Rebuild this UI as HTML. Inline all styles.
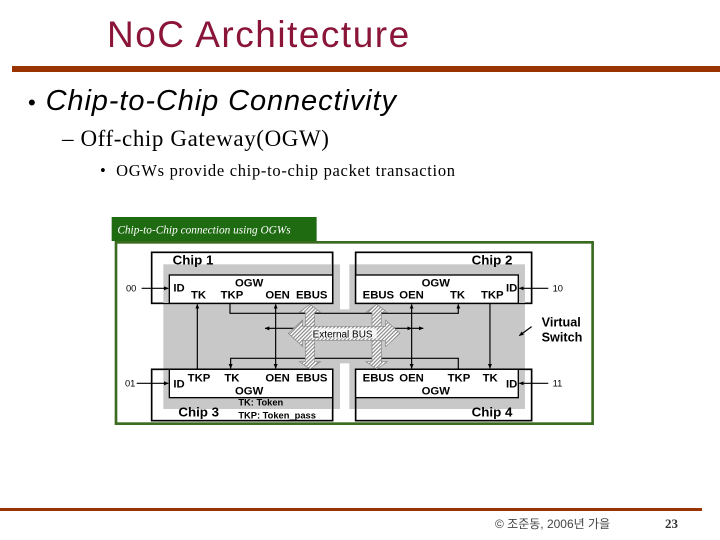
<!DOCTYPE html>
<html><head><meta charset="utf-8"><style>
body{margin:0;width:720px;height:540px;background:#fff;position:relative;overflow:hidden;font-family:"Liberation Sans",sans-serif}
.a{position:absolute;white-space:nowrap}
</style></head><body>
<div class="a" style="left:107px;top:14px;font-size:37px;letter-spacing:1.5px;color:#8a1538;">NoC Architecture</div>
<div class="a" style="left:12px;top:66px;width:708px;height:6px;background:#993300"></div>
<div class="a" style="left:28px;top:85px;font-size:29px;font-style:italic;letter-spacing:0.9px;color:#000"><span style="font-style:normal;font-size:22px">•</span>&nbsp;Chip-to-Chip Connectivity</div>
<div class="a" style="left:62px;top:126px;font-size:23px;letter-spacing:0.6px;font-family:'Liberation Serif',serif">– Off-chip Gateway(OGW)</div>
<div class="a" style="left:100px;top:161px;font-size:16.5px;letter-spacing:0.7px;font-family:'Liberation Serif',serif">•&nbsp; OGWs provide chip-to-chip packet transaction</div>
<svg class="a" style="left:0;top:0" width="720" height="540">
<defs>
<pattern id="h" width="8" height="8" patternUnits="userSpaceOnUse" patternTransform="rotate(45)"><rect width="8" height="8" fill="#fff"/><rect width="3.5" height="8" fill="#888"/></pattern>
<marker id="ar" markerWidth="14" markerHeight="12" refX="13" refY="6" orient="auto" markerUnits="userSpaceOnUse"><path d="M0,0L14,6L0,12z" fill="#000"/></marker>
</defs>
<g transform="translate(110,215) scale(0.3333)" font-family="Liberation Sans,sans-serif" font-weight="bold" fill="#000">
<rect x="5" y="6" width="615" height="72" fill="#1f6b12"/>
<text x="22" y="56" font-size="34" font-style="italic" font-weight="normal" font-family="Liberation Serif,serif" fill="#fff">Chip-to-Chip connection using OGWs</text>
<rect x="18" y="82" width="1430" height="544" fill="#fff" stroke="#3a6b1e" stroke-width="8"/>
<path d="M160,148H690V283H718V148H1245V582H718V445H690V582H160Z" fill="#c8c8c8"/>
<g fill="none" stroke="#000" stroke-width="5">
<rect x="125" y="112" width="543" height="153" fill="#fff"/>
<rect x="737" y="112" width="528" height="153" fill="#fff"/>
<rect x="125" y="463" width="543" height="154" fill="#fff"/>
<rect x="737" y="463" width="528" height="154" fill="#fff"/>
</g>
<rect x="160" y="148" width="505" height="116" fill="#c8c8c8"/>
<rect x="740" y="148" width="505" height="116" fill="#c8c8c8"/>
<rect x="160" y="466" width="505" height="116" fill="#c8c8c8"/>
<rect x="740" y="466" width="505" height="116" fill="#c8c8c8"/>
<g stroke="#000" stroke-width="4">
<rect x="178" y="180" width="490" height="85" fill="#fff"/>
<rect x="737" y="180" width="488" height="85" fill="#fff"/>
<rect x="178" y="463" width="490" height="85" fill="#fff"/>
<rect x="737" y="463" width="488" height="85" fill="#fff"/>
</g>
<g font-size="40">
<text x="188" y="148">Chip 1</text><text x="1085" y="148">Chip 2</text>
<text x="205" y="604">Chip 3</text><text x="1085" y="604">Chip 4</text>
</g>
<g font-size="34">
<text x="375" y="214">OGW</text><text x="935" y="214">OGW</text>
<text x="375" y="539">OGW</text><text x="935" y="539">OGW</text>
<text x="190" y="230">ID</text><text x="243" y="250">TK</text><text x="332" y="250">TKP</text><text x="466" y="250">OEN</text><text x="558" y="250">EBUS</text>
<text x="758" y="250">EBUS</text><text x="868" y="250">OEN</text><text x="1020" y="250">TK</text><text x="1113" y="250">TKP</text><text x="1188" y="230">ID</text>
<text x="190" y="517">ID</text><text x="233" y="500">TKP</text><text x="343" y="500">TK</text><text x="466" y="500">OEN</text><text x="558" y="500">EBUS</text>
<text x="758" y="500">EBUS</text><text x="868" y="500">OEN</text><text x="1013" y="500">TKP</text><text x="1118" y="500">TK</text><text x="1188" y="517">ID</text>
</g>
<g font-size="28"><text x="385" y="572">TK: Token</text><text x="385" y="610">TKP: Token_pass</text></g>
<g font-size="28" font-weight="normal"><text x="48" y="230">00</text><text x="1328" y="230">10</text><text x="45" y="515">01</text><text x="1328" y="515">11</text></g>
<g font-size="38" font-weight="bold"><text x="1295" y="335">Virtual</text><text x="1295" y="380">Switch</text></g>
<g stroke="#000" stroke-width="3.5" fill="none" marker-end="url(#ar)">
<path d="M95,220H175"/><path d="M1315,220H1228"/><path d="M80,505H175"/><path d="M1315,505H1228"/>
<path d="M262,463V268"/>
<path d="M360,265V295H1045V268"/>
<path d="M1140,265V460"/>
<path d="M1045,463V430H362V460"/>
<path d="M497,340V268"/><path d="M497,340V460"/><path d="M497,340H465"/>
<path d="M905,340V268"/><path d="M905,340V460"/><path d="M905,340H940"/>
<path d="M497,340H905"/>
<path d="M1265,335L1228,362"/>
</g>
<g fill="url(#h)" stroke="#888" stroke-width="2">
<path d="M600,268L632,292H614V440H632L600,462L568,440H586V292H568Z"/>
<path d="M800,268L832,292H814V440H832L800,462L768,440H786V292H768Z"/>
<path d="M535,355L578,315V334H827V315L870,355L827,395V376H578V395Z"/>
</g>
<rect x="605" y="340" width="195" height="30" fill="#fff" opacity="0.8"/>
<text x="608" y="367" font-size="30" font-weight="normal">External BUS</text>
</g>
</svg>
<div class="a" style="left:0;top:508px;width:702px;height:3px;background:#993300"></div>
<div class="a" style="left:495px;top:515px;font-size:12px;color:#444;font-family:'Liberation Sans','Noto Sans CJK KR',sans-serif">© 조준동, 2006년 가을</div>
<div class="a" style="left:665px;top:516px;font-size:13px;font-weight:bold;color:#333;font-family:'Liberation Serif',serif">23</div>
</body></html>
